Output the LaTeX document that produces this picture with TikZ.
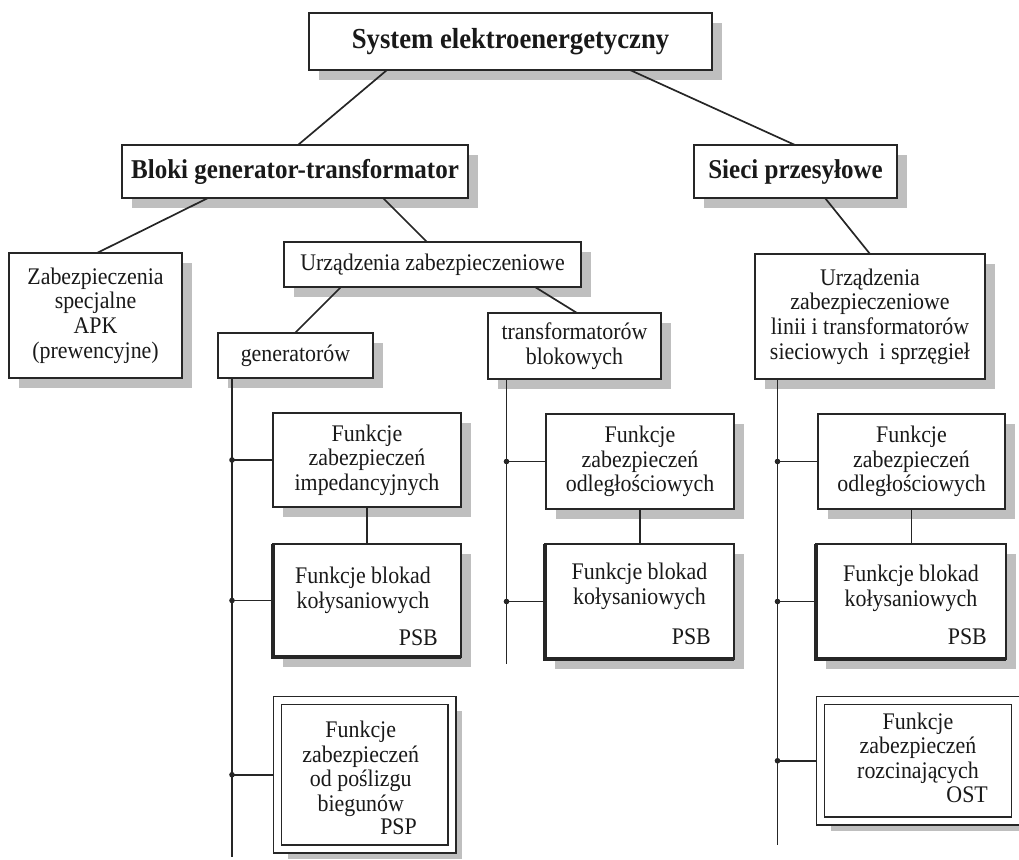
\documentclass[tikz,border=0pt]{standalone}
\usepackage{fontspec}
\setmainfont{Liberation Serif}[FakeStretch=0.92]
\usepackage{tikz}
\usetikzlibrary{positioning,shadows}

\begin{document}
\begin{tikzpicture}[x=1pt, y=-1pt,
    box/.style={draw=black!85, line width=1.8pt, fill=white, inner sep=0pt, outer sep=0pt,
        align=center, text=black!90, font=\fontsize{23.8}{24.6}\selectfont,
        drop shadow={shadow xshift=10pt, shadow yshift=-10pt, fill=black!25, opacity=1}},
    headbox/.style={box, font=\fontsize{27.2}{28}\selectfont\bfseries},
    psbbox/.style={box, line width=2.3pt},
    dblbox/.style={box, line width=1.5pt, double=white, double distance=6.5pt, outer sep=4.7pt},
    txt/.style={inner sep=0pt, align=center, text=black!90, font=\fontsize{23.8}{24.6}\selectfont},
    code/.style={txt, anchor=south east},
    wire/.style={draw=black!85, line width=1.7pt}]
    \useasboundingbox (0,0) rectangle (1019,859);

    % Top levels
    \node[headbox, minimum width=403pt, minimum height=57pt, font=\fontsize{29}{30}\selectfont\bfseries] (top) at (510.5,41.5) {System elektroenergetyczny};
    \node[headbox, minimum width=346pt, minimum height=53pt] (bloki) at (295,171.5) {Bloki generator-transformator};
    \node[headbox, minimum width=203pt, minimum height=53pt] (sieci) at (795.5,171.5) {Sieci przesyłowe};

    % Second level
    \node[box, minimum width=173pt, minimum height=125pt] (apk) at (95.5,315.5) {Zabezpieczenia\\specjalne\\APK\\(prewencyjne)};
    \node[box, minimum width=297pt, minimum height=45pt] (urz) at (432.5,264.5) {Urządzenia zabezpieczeniowe};
    \node[box, minimum width=155pt, minimum height=45pt] (gen) at (295.5,355.5) {generatorów};
    \node[box, minimum width=173pt, minimum height=66pt] (trb) at (574.5,346) {transformatorów\\blokowych};
    \node[box, minimum width=230pt, minimum height=125pt] (urzs) at (870,316.5) {Urządzenia\\zabezpieczeniowe\\linii i transformatorów\\sieciowych\ \ i sprzęgieł};

    % Generator functions
    \node[box, minimum width=188pt, minimum height=94pt] (g1) at (367,460) {Funkcje\\zabezpieczeń\\impedancyjnych};
    \node[psbbox, minimum width=188pt, minimum height=113pt] (g2) at (367,600.5) {};
    \node[txt, below=23pt of g2.north, xshift=-4pt] (g2t) {Funkcje blokad\\kołysaniowych};
    \node[code, above left=11pt and 23pt of g2.south east] (g2c) {PSB};
    \node[dblbox, minimum width=174.5pt, minimum height=148.5pt] (g3) at (364.75,774.75) {};
    \node[txt, below=25pt of g3.north, xshift=-4pt] (g3t) {Funkcje\\zabezpieczeń\\od poślizgu\\biegunów};
    \node[code, above left=18.7pt and 39.7pt of g3.south east] (g3c) {PSP};

    % Transformer functions
    \node[box, minimum width=188pt, minimum height=95pt] (t1) at (640,461.5) {Funkcje\\zabezpieczeń\\odległościowych};
    \node[psbbox, minimum width=189pt, minimum height=115pt] (t2) at (639.5,601.5) {};
    \node[txt, below=19pt of t2.north] (t2t) {Funkcje blokad\\kołysaniowych};
    \node[code, above left=14pt and 23pt of t2.south east] (t2c) {PSB};

    % Network functions
    \node[box, minimum width=187pt, minimum height=95pt] (s1) at (911.5,461.5) {Funkcje\\zabezpieczeń\\odległościowych};
    \node[psbbox, minimum width=190pt, minimum height=115pt] (s2) at (911,601.5) {};
    \node[txt, below=21pt of s2.north] (s2t) {Funkcje blokad\\kołysaniowych};
    \node[code, above left=14pt and 19pt of s2.south east] (s2c) {PSB};
    \node[dblbox, minimum width=195pt, minimum height=120.5pt] (s3) at (918,760.75) {};
    \node[txt, below=16.5pt of s3.north] (s3t) {Funkcje\\zabezpieczeń\\rozcinających};
    \node[code, above left=22.7pt and 32.2pt of s3.south east] (s3c) {OST};

    % Heavy edges
    \foreach \b in {g2,t2,s2} {
        \draw[black!85, line width=3.8pt] (\b.north west) -- (\b.south west) -- (\b.south east);
    }

    % Tree lines
    \draw[wire] ([xshift=78pt]top.south west) -- ([xshift=176pt]bloki.north west);
    \draw[wire] ([xshift=321pt]top.south west) -- ([xshift=101pt]sieci.north west);
    \draw[wire] ([xshift=86pt]bloki.south west) -- ([xshift=88pt]apk.north west);
    \draw[wire] ([xshift=261pt]bloki.south west) -- ([xshift=143pt]urz.north west);
    \draw[wire] ([xshift=131pt]sieci.south west) -- ([xshift=115pt]urzs.north west);
    \draw[wire] ([xshift=57pt]urz.south west) -- ([xshift=77pt]gen.north west);
    \draw[wire] ([xshift=251pt]urz.south west) -- ([xshift=89pt]trb.north west);
    \draw[wire] (g1.south) -- (g2.north);
    \draw[wire] (t1.south) -- (t1.south |- t2.north);
    \draw[wire] (s1.south) -- (s1.south |- s2.north);

    % Buses
    \coordinate (genbus) at (232,857);
    \coordinate (tbus) at (506.5,664);
    \coordinate (sbus) at (777.5,845);
    \draw[wire] (gen.south -| genbus) -- (genbus);
    \draw[wire] (trb.south -| tbus) -- (tbus);
    \draw[wire] (urzs.south -| sbus) -- (sbus);
    \foreach \b/\bus in {g1/genbus,g2/genbus,g3/genbus,t1/tbus,t2/tbus,s1/sbus,s2/sbus,s3/sbus} {
        \draw[wire] (\b.west) -- (\b.west -| \bus);
        \fill[black!85] (\b.west -| \bus) circle (2.8pt);
    }
\end{tikzpicture}
\end{document}
